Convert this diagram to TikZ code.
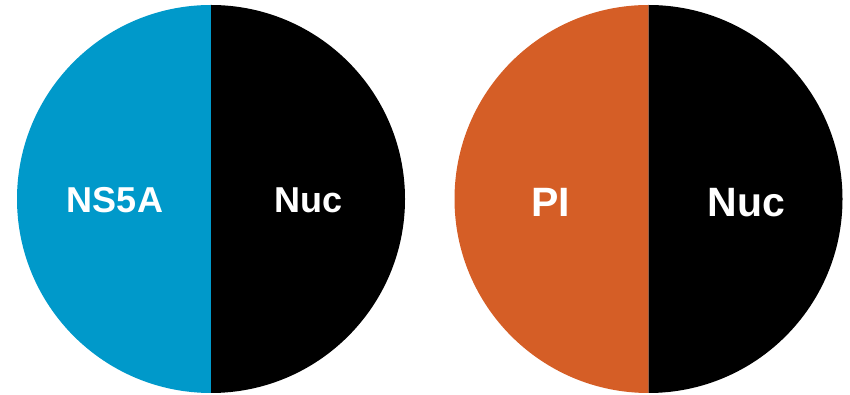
\documentclass[tikz,border=0pt]{standalone}
\usepackage{fontspec}
\setmainfont{Liberation Sans}
\definecolor{ns5ablue}{RGB}{0,153,202}
\definecolor{piorange}{RGB}{213,94,38}
\begin{document}
\begin{tikzpicture}[x=1pt,y=1pt,
  label text/.style={text=white,font=\bfseries,inner sep=0pt,anchor=base}]
\useasboundingbox (0,0) rectangle (850,395);
% left disc: NS5A | Nuc
\coordinate (cl) at (211,196);
\fill[ns5ablue] (cl) ++(90:194) arc[start angle=90,end angle=270,radius=194] -- cycle;
\fill[black] (cl) ++(-90:194) arc[start angle=-90,end angle=90,radius=194] -- cycle;
% right disc: PI | Nuc
\coordinate (cr) at (648.5,196);
\fill[piorange] (cr) ++(90:194) arc[start angle=90,end angle=270,radius=194] -- cycle;
\fill[black] (cr) ++(-90:194) arc[start angle=-90,end angle=90,radius=194] -- cycle;
% labels
\node[label text,font=\fontsize{36}{40}\selectfont\bfseries] (ns5a) at (115,182) {NS5A};
\node[label text,font=\fontsize{36}{40}\selectfont\bfseries] (nucl) at (308.5,182) {Nuc};
\node[label text,font=\fontsize{41}{45}\selectfont\bfseries] (pi) at (551,178) {PI};
\node[label text,font=\fontsize{41}{45}\selectfont\bfseries] (nucr) at (746.5,178) {Nuc};
\end{tikzpicture}
\end{document}
